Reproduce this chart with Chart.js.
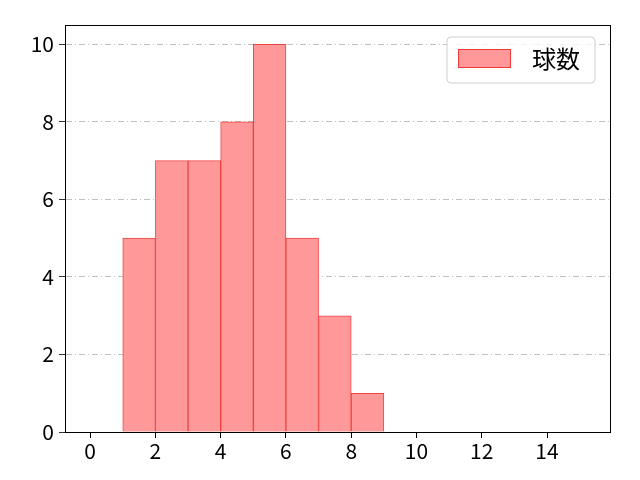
<!DOCTYPE html>
<html><head><meta charset="utf-8">
<script src="https://cdn.jsdelivr.net/npm/chart.js@4"></script>
<style>html,body{margin:0;padding:0;background:#fff}#wrap{width:640px;height:480px}</style>
</head><body><div id="wrap"><canvas id="c" width="640" height="480"></canvas></div>
<script>
const seriesLabel = '球数';
const binStarts = [1, 2, 3, 4, 5, 6, 7, 8];
const counts = [5, 7, 7, 8, 10, 5, 3, 1];
const xTickValues = [0, 2, 4, 6, 8, 10, 12, 14];
const yTickValues = [0, 2, 4, 6, 8, 10];
const FONT = "'Noto Sans CJK JP', 'DejaVu Sans', sans-serif";

const framePlugin = {
  id: 'frame',
  afterDraw(chart) {
    const {ctx, chartArea: a} = chart;
    ctx.save();
    ctx.strokeStyle = '#000'; ctx.lineWidth = 1;
    ctx.strokeRect(Math.round(a.left) + 0.5, Math.round(a.top) + 0.5, Math.round(a.right - a.left), Math.round(a.bottom - a.top));
    // legend
    const x = 447, y = 37, w = 148, h = 46, r = 4;
    ctx.beginPath();
    ctx.moveTo(x + r, y); ctx.lineTo(x + w - r, y); ctx.quadraticCurveTo(x + w, y, x + w, y + r);
    ctx.lineTo(x + w, y + h - r); ctx.quadraticCurveTo(x + w, y + h, x + w - r, y + h);
    ctx.lineTo(x + r, y + h); ctx.quadraticCurveTo(x, y + h, x, y + h - r);
    ctx.lineTo(x, y + r); ctx.quadraticCurveTo(x, y, x + r, y); ctx.closePath();
    ctx.fillStyle = 'rgba(255,255,255,0.8)'; ctx.fill();
    ctx.strokeStyle = '#d0d0d0'; ctx.stroke();
    const ds = chart.data.datasets[0];
    ctx.fillStyle = ds.backgroundColor; ctx.fillRect(458, 49, 53, 19);
    ctx.strokeStyle = ds.borderColor; ctx.strokeRect(458.5, 49.5, 52, 18);
    ctx.fillStyle = '#000'; ctx.font = '24px ' + FONT; ctx.textBaseline = 'middle';
    ctx.fillText(ds.label, 532, 59);
    ctx.restore();
  }
};

new Chart(document.getElementById('c'), {
  type: 'bar',
  data: {
    datasets: [{
      label: seriesLabel,
      data: binStarts.map((b, i) => ({x: b + 0.5, y: counts[i]})),
      backgroundColor: 'rgb(255,153,153)',
      borderColor: 'rgba(240,50,50,0.9)',
      borderWidth: 1,
      barPercentage: 1,
      categoryPercentage: 1,
      borderSkipped: 'start'
    }]
  },
  options: {
    responsive: false,
    animation: false,
    layout: {padding: {left: 0, right: 30, top: 25, bottom: 0}},
    plugins: {legend: {display: false}, tooltip: {enabled: false}},
    scales: {
      x: {
        type: 'linear', min: -0.77, max: 15.93, offset: false,
        afterBuildTicks: s => { s.ticks = xTickValues.map(v => ({value: v})); },
        afterFit: s => { s.height = 48; },
        grid: {drawOnChartArea: false, offset: false, tickLength: 6, tickColor: '#000'},
        border: {color: '#000'},
        ticks: {color: '#000', font: {family: FONT, size: 21}, padding: 0, maxRotation: 0}
      },
      y: {
        min: 0, max: 10.5,
        afterBuildTicks: s => { s.ticks = yTickValues.map(v => ({value: v})); },
        afterFit: s => { s.width = 65; },
        grid: {color: '#b0b0b0', lineWidth: 0.8, tickBorderDash: [], tickLength: 6, tickColor: '#000'},
        border: {color: '#000', dash: [6, 3, 1, 3]},
        ticks: {color: '#000', font: {family: FONT, size: 21}, padding: 5}
      }
    }
  },
  plugins: [framePlugin]
});
</script></body></html>
